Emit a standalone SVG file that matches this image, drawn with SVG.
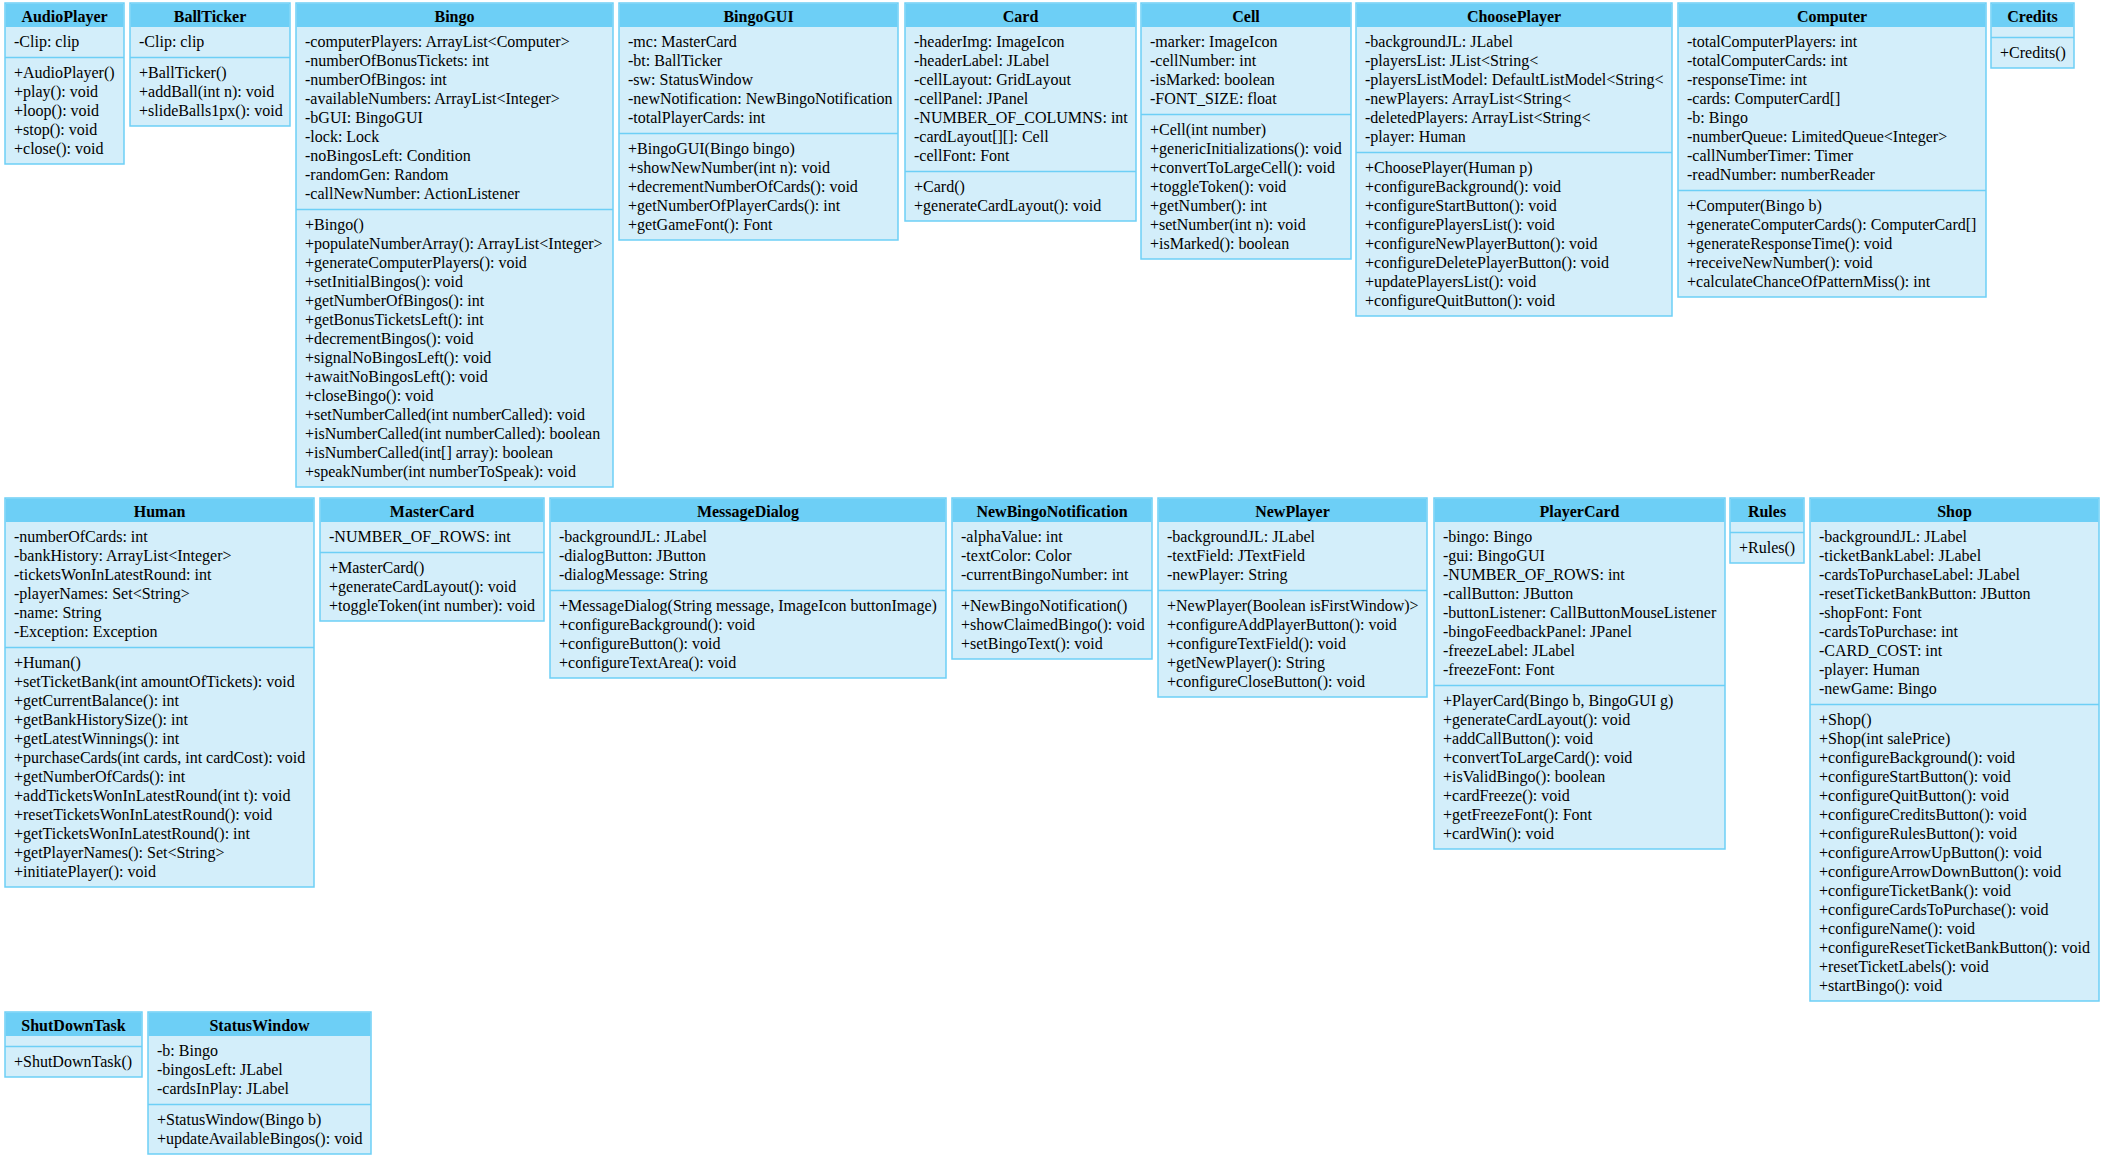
<svg xmlns="http://www.w3.org/2000/svg" width="2109" height="1168" viewBox="0 0 2109 1168">
<style>
.box{fill:#d3eefa;stroke:#6dcff6;stroke-width:1.5}
.hd{fill:#6dcff6}
.dv{stroke:#6dcff6;stroke-width:1.5}
.t{font-family:"Liberation Serif","Times New Roman",serif;font-size:16px;fill:#000}
.ti{font-family:"Liberation Serif","Times New Roman",serif;font-size:16px;font-weight:bold;text-anchor:middle;fill:#000}
</style>
<rect width="2109" height="1168" fill="#ffffff"/>
<g id="connectors"/>

<g id="AudioPlayer" transform="translate(5,3)">
<rect class="box" width="119" height="161"/><rect class="hd" x="0.75" y="0.75" width="117.5" height="23.25"/>
<line class="dv" x1="0" y1="54.5" x2="119" y2="54.5"/>
<text class="ti" x="59.5" y="18.5">AudioPlayer</text>
<text class="t" x="9" y="44">-Clip: clip</text>
<text class="t"><tspan x="9" y="74.5">+AudioPlayer()</tspan><tspan x="9" dy="19">+play(): void</tspan><tspan x="9" dy="19">+loop(): void</tspan><tspan x="9" dy="19">+stop(): void</tspan><tspan x="9" dy="19">+close(): void</tspan></text>
</g>

<g id="BallTicker" transform="translate(130,3)">
<rect class="box" width="160" height="123"/><rect class="hd" x="0.75" y="0.75" width="158.5" height="23.25"/>
<line class="dv" x1="0" y1="54.5" x2="160" y2="54.5"/>
<text class="ti" x="80" y="18.5">BallTicker</text>
<text class="t" x="9" y="44">-Clip: clip</text>
<text class="t"><tspan x="9" y="74.5">+BallTicker()</tspan><tspan x="9" dy="19">+addBall(int n): void</tspan><tspan x="9" dy="19">+slideBalls1px(): void</tspan></text>
</g>

<g id="Bingo" transform="translate(296,3)">
<rect class="box" width="317" height="484"/><rect class="hd" x="0.75" y="0.75" width="315.5" height="23.25"/>
<line class="dv" x1="0" y1="206.5" x2="317" y2="206.5"/>
<text class="ti" x="158.5" y="18.5">Bingo</text>
<text class="t"><tspan x="9" y="44">-computerPlayers: ArrayList&lt;Computer&gt;</tspan><tspan x="9" dy="19">-numberOfBonusTickets: int</tspan><tspan x="9" dy="19">-numberOfBingos: int</tspan><tspan x="9" dy="19">-availableNumbers: ArrayList&lt;Integer&gt;</tspan><tspan x="9" dy="19">-bGUI: BingoGUI</tspan><tspan x="9" dy="19">-lock: Lock</tspan><tspan x="9" dy="19">-noBingosLeft: Condition</tspan><tspan x="9" dy="19">-randomGen: Random</tspan><tspan x="9" dy="19">-callNewNumber: ActionListener</tspan></text>
<text class="t"><tspan x="9" y="226.5">+Bingo()</tspan><tspan x="9" dy="19">+populateNumberArray(): ArrayList&lt;Integer&gt;</tspan><tspan x="9" dy="19">+generateComputerPlayers(): void</tspan><tspan x="9" dy="19">+setInitialBingos(): void</tspan><tspan x="9" dy="19">+getNumberOfBingos(): int</tspan><tspan x="9" dy="19">+getBonusTicketsLeft(): int</tspan><tspan x="9" dy="19">+decrementBingos(): void</tspan><tspan x="9" dy="19">+signalNoBingosLeft(): void</tspan><tspan x="9" dy="19">+awaitNoBingosLeft(): void</tspan><tspan x="9" dy="19">+closeBingo(): void</tspan><tspan x="9" dy="19">+setNumberCalled(int numberCalled): void</tspan><tspan x="9" dy="19">+isNumberCalled(int numberCalled): boolean</tspan><tspan x="9" dy="19">+isNumberCalled(int[] array): boolean</tspan><tspan x="9" dy="19">+speakNumber(int numberToSpeak): void</tspan></text>
</g>

<g id="BingoGUI" transform="translate(619,3)">
<rect class="box" width="279" height="237"/><rect class="hd" x="0.75" y="0.75" width="277.5" height="23.25"/>
<line class="dv" x1="0" y1="130.5" x2="279" y2="130.5"/>
<text class="ti" x="139.5" y="18.5">BingoGUI</text>
<text class="t"><tspan x="9" y="44">-mc: MasterCard</tspan><tspan x="9" dy="19">-bt: BallTicker</tspan><tspan x="9" dy="19">-sw: StatusWindow</tspan><tspan x="9" dy="19">-newNotification: NewBingoNotification</tspan><tspan x="9" dy="19">-totalPlayerCards: int</tspan></text>
<text class="t"><tspan x="9" y="150.5">+BingoGUI(Bingo bingo)</tspan><tspan x="9" dy="19">+showNewNumber(int n): void</tspan><tspan x="9" dy="19">+decrementNumberOfCards(): void</tspan><tspan x="9" dy="19">+getNumberOfPlayerCards(): int</tspan><tspan x="9" dy="19">+getGameFont(): Font</tspan></text>
</g>

<g id="Card" transform="translate(905,3)">
<rect class="box" width="231" height="218"/><rect class="hd" x="0.75" y="0.75" width="229.5" height="23.25"/>
<line class="dv" x1="0" y1="168.5" x2="231" y2="168.5"/>
<text class="ti" x="115.5" y="18.5">Card</text>
<text class="t"><tspan x="9" y="44">-headerImg: ImageIcon</tspan><tspan x="9" dy="19">-headerLabel: JLabel</tspan><tspan x="9" dy="19">-cellLayout: GridLayout</tspan><tspan x="9" dy="19">-cellPanel: JPanel</tspan><tspan x="9" dy="19">-NUMBER_OF_COLUMNS: int</tspan><tspan x="9" dy="19">-cardLayout[][]: Cell</tspan><tspan x="9" dy="19">-cellFont: Font</tspan></text>
<text class="t"><tspan x="9" y="188.5">+Card()</tspan><tspan x="9" dy="19">+generateCardLayout(): void</tspan></text>
</g>

<g id="Cell" transform="translate(1141,3)">
<rect class="box" width="210" height="256"/><rect class="hd" x="0.75" y="0.75" width="208.5" height="23.25"/>
<line class="dv" x1="0" y1="111.5" x2="210" y2="111.5"/>
<text class="ti" x="105" y="18.5">Cell</text>
<text class="t"><tspan x="9" y="44">-marker: ImageIcon</tspan><tspan x="9" dy="19">-cellNumber: int</tspan><tspan x="9" dy="19">-isMarked: boolean</tspan><tspan x="9" dy="19">-FONT_SIZE: float</tspan></text>
<text class="t"><tspan x="9" y="131.5">+Cell(int number)</tspan><tspan x="9" dy="19">+genericInitializations(): void</tspan><tspan x="9" dy="19">+convertToLargeCell(): void</tspan><tspan x="9" dy="19">+toggleToken(): void</tspan><tspan x="9" dy="19">+getNumber(): int</tspan><tspan x="9" dy="19">+setNumber(int n): void</tspan><tspan x="9" dy="19">+isMarked(): boolean</tspan></text>
</g>

<g id="ChoosePlayer" transform="translate(1356,3)">
<rect class="box" width="316" height="313"/><rect class="hd" x="0.75" y="0.75" width="314.5" height="23.25"/>
<line class="dv" x1="0" y1="149.5" x2="316" y2="149.5"/>
<text class="ti" x="158" y="18.5">ChoosePlayer</text>
<text class="t"><tspan x="9" y="44">-backgroundJL: JLabel</tspan><tspan x="9" dy="19">-playersList: JList&lt;String&lt;</tspan><tspan x="9" dy="19">-playersListModel: DefaultListModel&lt;String&lt;</tspan><tspan x="9" dy="19">-newPlayers: ArrayList&lt;String&lt;</tspan><tspan x="9" dy="19">-deletedPlayers: ArrayList&lt;String&lt;</tspan><tspan x="9" dy="19">-player: Human</tspan></text>
<text class="t"><tspan x="9" y="169.5">+ChoosePlayer(Human p)</tspan><tspan x="9" dy="19">+configureBackground(): void</tspan><tspan x="9" dy="19">+configureStartButton(): void</tspan><tspan x="9" dy="19">+configurePlayersList(): void</tspan><tspan x="9" dy="19">+configureNewPlayerButton(): void</tspan><tspan x="9" dy="19">+configureDeletePlayerButton(): void</tspan><tspan x="9" dy="19">+updatePlayersList(): void</tspan><tspan x="9" dy="19">+configureQuitButton(): void</tspan></text>
</g>

<g id="Computer" transform="translate(1678,3)">
<rect class="box" width="308" height="294"/><rect class="hd" x="0.75" y="0.75" width="306.5" height="23.25"/>
<line class="dv" x1="0" y1="187.5" x2="308" y2="187.5"/>
<text class="ti" x="154" y="18.5">Computer</text>
<text class="t"><tspan x="9" y="44">-totalComputerPlayers: int</tspan><tspan x="9" dy="19">-totalComputerCards: int</tspan><tspan x="9" dy="19">-responseTime: int</tspan><tspan x="9" dy="19">-cards: ComputerCard[]</tspan><tspan x="9" dy="19">-b: Bingo</tspan><tspan x="9" dy="19">-numberQueue: LimitedQueue&lt;Integer&gt;</tspan><tspan x="9" dy="19">-callNumberTimer: Timer</tspan><tspan x="9" dy="19">-readNumber: numberReader</tspan></text>
<text class="t"><tspan x="9" y="207.5">+Computer(Bingo b)</tspan><tspan x="9" dy="19">+generateComputerCards(): ComputerCard[]</tspan><tspan x="9" dy="19">+generateResponseTime(): void</tspan><tspan x="9" dy="19">+receiveNewNumber(): void</tspan><tspan x="9" dy="19">+calculateChanceOfPatternMiss(): int</tspan></text>
</g>

<g id="Credits" transform="translate(1991,3)">
<rect class="box" width="83" height="65"/><rect class="hd" x="0.75" y="0.75" width="81.5" height="23.25"/>
<line class="dv" x1="0" y1="34.5" x2="83" y2="34.5"/>
<text class="ti" x="41.5" y="18.5">Credits</text>
<text class="t" x="9" y="55">+Credits()</text>
</g>

<g id="Human" transform="translate(5,498)">
<rect class="box" width="309" height="389"/><rect class="hd" x="0.75" y="0.75" width="307.5" height="23.25"/>
<line class="dv" x1="0" y1="149.5" x2="309" y2="149.5"/>
<text class="ti" x="154.5" y="18.5">Human</text>
<text class="t"><tspan x="9" y="44">-numberOfCards: int</tspan><tspan x="9" dy="19">-bankHistory: ArrayList&lt;Integer&gt;</tspan><tspan x="9" dy="19">-ticketsWonInLatestRound: int</tspan><tspan x="9" dy="19">-playerNames: Set&lt;String&gt;</tspan><tspan x="9" dy="19">-name: String</tspan><tspan x="9" dy="19">-Exception: Exception</tspan></text>
<text class="t"><tspan x="9" y="169.5">+Human()</tspan><tspan x="9" dy="19">+setTicketBank(int amountOfTickets): void</tspan><tspan x="9" dy="19">+getCurrentBalance(): int</tspan><tspan x="9" dy="19">+getBankHistorySize(): int</tspan><tspan x="9" dy="19">+getLatestWinnings(): int</tspan><tspan x="9" dy="19">+purchaseCards(int cards, int cardCost): void</tspan><tspan x="9" dy="19">+getNumberOfCards(): int</tspan><tspan x="9" dy="19">+addTicketsWonInLatestRound(int t): void</tspan><tspan x="9" dy="19">+resetTicketsWonInLatestRound(): void</tspan><tspan x="9" dy="19">+getTicketsWonInLatestRound(): int</tspan><tspan x="9" dy="19">+getPlayerNames(): Set&lt;String&gt;</tspan><tspan x="9" dy="19">+initiatePlayer(): void</tspan></text>
</g>

<g id="MasterCard" transform="translate(320,498)">
<rect class="box" width="224" height="123"/><rect class="hd" x="0.75" y="0.75" width="222.5" height="23.25"/>
<line class="dv" x1="0" y1="54.5" x2="224" y2="54.5"/>
<text class="ti" x="112" y="18.5">MasterCard</text>
<text class="t" x="9" y="44">-NUMBER_OF_ROWS: int</text>
<text class="t"><tspan x="9" y="74.5">+MasterCard()</tspan><tspan x="9" dy="19">+generateCardLayout(): void</tspan><tspan x="9" dy="19">+toggleToken(int number): void</tspan></text>
</g>

<g id="MessageDialog" transform="translate(550,498)">
<rect class="box" width="396" height="180"/><rect class="hd" x="0.75" y="0.75" width="394.5" height="23.25"/>
<line class="dv" x1="0" y1="92.5" x2="396" y2="92.5"/>
<text class="ti" x="198" y="18.5">MessageDialog</text>
<text class="t"><tspan x="9" y="44">-backgroundJL: JLabel</tspan><tspan x="9" dy="19">-dialogButton: JButton</tspan><tspan x="9" dy="19">-dialogMessage: String</tspan></text>
<text class="t"><tspan x="9" y="112.5">+MessageDialog(String message, ImageIcon buttonImage)</tspan><tspan x="9" dy="19">+configureBackground(): void</tspan><tspan x="9" dy="19">+configureButton(): void</tspan><tspan x="9" dy="19">+configureTextArea(): void</tspan></text>
</g>

<g id="NewBingoNotification" transform="translate(952,498)">
<rect class="box" width="200" height="161"/><rect class="hd" x="0.75" y="0.75" width="198.5" height="23.25"/>
<line class="dv" x1="0" y1="92.5" x2="200" y2="92.5"/>
<text class="ti" x="100" y="18.5">NewBingoNotification</text>
<text class="t"><tspan x="9" y="44">-alphaValue: int</tspan><tspan x="9" dy="19">-textColor: Color</tspan><tspan x="9" dy="19">-currentBingoNumber: int</tspan></text>
<text class="t"><tspan x="9" y="112.5">+NewBingoNotification()</tspan><tspan x="9" dy="19">+showClaimedBingo(): void</tspan><tspan x="9" dy="19">+setBingoText(): void</tspan></text>
</g>

<g id="NewPlayer" transform="translate(1158,498)">
<rect class="box" width="269" height="199"/><rect class="hd" x="0.75" y="0.75" width="267.5" height="23.25"/>
<line class="dv" x1="0" y1="92.5" x2="269" y2="92.5"/>
<text class="ti" x="134.5" y="18.5">NewPlayer</text>
<text class="t"><tspan x="9" y="44">-backgroundJL: JLabel</tspan><tspan x="9" dy="19">-textField: JTextField</tspan><tspan x="9" dy="19">-newPlayer: String</tspan></text>
<text class="t"><tspan x="9" y="112.5">+NewPlayer(Boolean isFirstWindow)&gt;</tspan><tspan x="9" dy="19">+configureAddPlayerButton(): void</tspan><tspan x="9" dy="19">+configureTextField(): void</tspan><tspan x="9" dy="19">+getNewPlayer(): String</tspan><tspan x="9" dy="19">+configureCloseButton(): void</tspan></text>
</g>

<g id="PlayerCard" transform="translate(1434,498)">
<rect class="box" width="291" height="351"/><rect class="hd" x="0.75" y="0.75" width="289.5" height="23.25"/>
<line class="dv" x1="0" y1="187.5" x2="291" y2="187.5"/>
<text class="ti" x="145.5" y="18.5">PlayerCard</text>
<text class="t"><tspan x="9" y="44">-bingo: Bingo</tspan><tspan x="9" dy="19">-gui: BingoGUI</tspan><tspan x="9" dy="19">-NUMBER_OF_ROWS: int</tspan><tspan x="9" dy="19">-callButton: JButton</tspan><tspan x="9" dy="19">-buttonListener: CallButtonMouseListener</tspan><tspan x="9" dy="19">-bingoFeedbackPanel: JPanel</tspan><tspan x="9" dy="19">-freezeLabel: JLabel</tspan><tspan x="9" dy="19">-freezeFont: Font</tspan></text>
<text class="t"><tspan x="9" y="207.5">+PlayerCard(Bingo b, BingoGUI g)</tspan><tspan x="9" dy="19">+generateCardLayout(): void</tspan><tspan x="9" dy="19">+addCallButton(): void</tspan><tspan x="9" dy="19">+convertToLargeCard(): void</tspan><tspan x="9" dy="19">+isValidBingo(): boolean</tspan><tspan x="9" dy="19">+cardFreeze(): void</tspan><tspan x="9" dy="19">+getFreezeFont(): Font</tspan><tspan x="9" dy="19">+cardWin(): void</tspan></text>
</g>

<g id="Rules" transform="translate(1730,498)">
<rect class="box" width="74" height="65"/><rect class="hd" x="0.75" y="0.75" width="72.5" height="23.25"/>
<line class="dv" x1="0" y1="34.5" x2="74" y2="34.5"/>
<text class="ti" x="37" y="18.5">Rules</text>
<text class="t" x="9" y="55">+Rules()</text>
</g>

<g id="Shop" transform="translate(1810,498)">
<rect class="box" width="289" height="503"/><rect class="hd" x="0.75" y="0.75" width="287.5" height="23.25"/>
<line class="dv" x1="0" y1="206.5" x2="289" y2="206.5"/>
<text class="ti" x="144.5" y="18.5">Shop</text>
<text class="t"><tspan x="9" y="44">-backgroundJL: JLabel</tspan><tspan x="9" dy="19">-ticketBankLabel: JLabel</tspan><tspan x="9" dy="19">-cardsToPurchaseLabel: JLabel</tspan><tspan x="9" dy="19">-resetTicketBankButton: JButton</tspan><tspan x="9" dy="19">-shopFont: Font</tspan><tspan x="9" dy="19">-cardsToPurchase: int</tspan><tspan x="9" dy="19">-CARD_COST: int</tspan><tspan x="9" dy="19">-player: Human</tspan><tspan x="9" dy="19">-newGame: Bingo</tspan></text>
<text class="t"><tspan x="9" y="226.5">+Shop()</tspan><tspan x="9" dy="19">+Shop(int salePrice)</tspan><tspan x="9" dy="19">+configureBackground(): void</tspan><tspan x="9" dy="19">+configureStartButton(): void</tspan><tspan x="9" dy="19">+configureQuitButton(): void</tspan><tspan x="9" dy="19">+configureCreditsButton(): void</tspan><tspan x="9" dy="19">+configureRulesButton(): void</tspan><tspan x="9" dy="19">+configureArrowUpButton(): void</tspan><tspan x="9" dy="19">+configureArrowDownButton(): void</tspan><tspan x="9" dy="19">+configureTicketBank(): void</tspan><tspan x="9" dy="19">+configureCardsToPurchase(): void</tspan><tspan x="9" dy="19">+configureName(): void</tspan><tspan x="9" dy="19">+configureResetTicketBankButton(): void</tspan><tspan x="9" dy="19">+resetTicketLabels(): void</tspan><tspan x="9" dy="19">+startBingo(): void</tspan></text>
</g>

<g id="ShutDownTask" transform="translate(5,1012)">
<rect class="box" width="137" height="65"/><rect class="hd" x="0.75" y="0.75" width="135.5" height="23.25"/>
<line class="dv" x1="0" y1="34.5" x2="137" y2="34.5"/>
<text class="ti" x="68.5" y="18.5">ShutDownTask</text>
<text class="t" x="9" y="55">+ShutDownTask()</text>
</g>

<g id="StatusWindow" transform="translate(148,1012)">
<rect class="box" width="223" height="142"/><rect class="hd" x="0.75" y="0.75" width="221.5" height="23.25"/>
<line class="dv" x1="0" y1="92.5" x2="223" y2="92.5"/>
<text class="ti" x="111.5" y="18.5">StatusWindow</text>
<text class="t"><tspan x="9" y="44">-b: Bingo</tspan><tspan x="9" dy="19">-bingosLeft: JLabel</tspan><tspan x="9" dy="19">-cardsInPlay: JLabel</tspan></text>
<text class="t"><tspan x="9" y="112.5">+StatusWindow(Bingo b)</tspan><tspan x="9" dy="19">+updateAvailableBingos(): void</tspan></text>
</g>
</svg>
